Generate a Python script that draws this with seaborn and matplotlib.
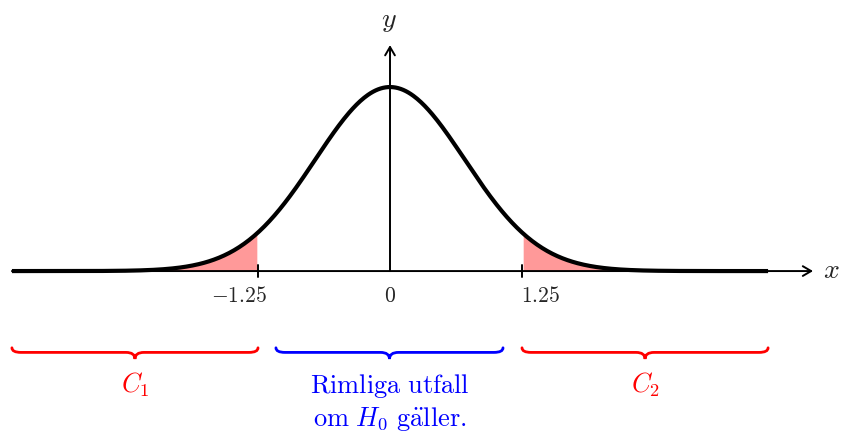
import numpy as np
import pandas as pd
import matplotlib
matplotlib.use("Agg")
import matplotlib.pyplot as plt
from matplotlib.path import Path
from matplotlib.patches import PathPatch
import seaborn as sns

# Test statistic curve and critical region
x_start, x_end = -3.58, 3.58      # plotted domain of the curve
crit = 1.25                       # critical value (two-sided)
tick_values = [-1.25, 0.0, 1.25]
tick_labels = [r"$-1.25$", r"$0$", r"$1.25$"]

# Regions under the axis, with braces and captions
region_spans = [(-3.58, -1.25), (-1.08, 1.07), (1.25, 3.58)]
region_labels = [r"$C_1$",
                 r"$\mathrm{Rimliga\ utfall}$" + "\n" + r"$\mathrm{om}\ H_0\ \mathrm{g\ddot{a}ller.}$",
                 r"$C_2$"]
region_colors = ["#ff0000", "#0000ff", "#ff0000"]

sns.set_theme(style="white")
plt.rcParams["mathtext.fontset"] = "cm"

W, H, DPI = 842, 433, 100
fig = plt.figure(figsize=(W / DPI, H / DPI), dpi=DPI)
ax = fig.add_axes([0, 0, 1, 1])
ax.set_xlim(-3.693, 4.280)
ax.set_ylim(-0.880, 1.473)
ax.axis("off")

# Bell curve y = exp(-x^2)
xs = np.linspace(x_start, x_end, 600)
curve = pd.DataFrame({"x": xs, "y": np.exp(-xs ** 2)})

# Shaded tails
left = curve[curve.x <= -crit]
right = curve[curve.x >= crit]
ax.fill_between(left.x, 0, left.y, color="#ff9999", lw=0, zorder=1)
ax.fill_between(right.x, 0, right.y, color="#ff9999", lw=0, zorder=1)

# Axes with arrows
arrow = dict(arrowstyle="->,head_length=0.6,head_width=0.35", lw=1.4,
             color="black", shrinkA=0, shrinkB=0, mutation_scale=10)
ax.annotate("", xy=(4.006, 0), xytext=(x_start, 0), arrowprops=arrow, zorder=2)
ax.annotate("", xy=(0, 1.228), xytext=(0, 0), arrowprops=arrow, zorder=2)
ax.text(4.006 + 0.17, -0.038, r"$x$", fontsize=20, ha="center", va="baseline")
ax.text(-0.01, 1.326, r"$y$", fontsize=20, ha="center", va="baseline")

# Curve
sns.lineplot(data=curve, x="x", y="y", color="black", lw=3, ax=ax, zorder=3,
             sort=False)
ax.lines[-1].set_solid_capstyle("butt")

# Ticks and tick labels
for t, lab in zip(tick_values, tick_labels):
    if t != 0:
        ax.plot([t, t], [-0.034, 0.034], color="black", lw=1.4, zorder=2)
    ax.annotate(lab, xy=(t, -0.168), xytext=(np.sign(t) * 19, 0),
                textcoords="offset pixels", ha="center", va="baseline",
                fontsize=15.5)

# Braces
def brace(ax, x0, x1, color, y_top=-0.417, y_mid=-0.442, y_tip=-0.478, h=0.085):
    xc = 0.5 * (x0 + x1)
    verts = [(x0, y_top), (x0, y_mid), (x0 + h, y_mid),
             (xc - h, y_mid),
             (xc, y_mid), (xc, y_tip),
             (xc, y_mid), (xc + h, y_mid),
             (x1 - h, y_mid),
             (x1, y_mid), (x1, y_top)]
    codes = [Path.MOVETO, Path.CURVE3, Path.CURVE3,
             Path.LINETO,
             Path.CURVE3, Path.CURVE3,
             Path.CURVE3, Path.CURVE3,
             Path.LINETO,
             Path.CURVE3, Path.CURVE3]
    ax.add_patch(PathPatch(Path(verts, codes), fill=False, edgecolor=color,
                           lw=2.0, capstyle="round", zorder=2))

line_step = 0.178   # vertical distance between caption lines
for (a, b), lab, col in zip(region_spans, region_labels, region_colors):
    brace(ax, a, b, col)
    for i, line in enumerate(lab.split("\n")):
        ax.text(0.5 * (a + b), -0.662 - i * line_step, line, color=col,
                fontsize=19, ha="center", va="baseline")

fig.savefig("out.png", dpi=DPI)
